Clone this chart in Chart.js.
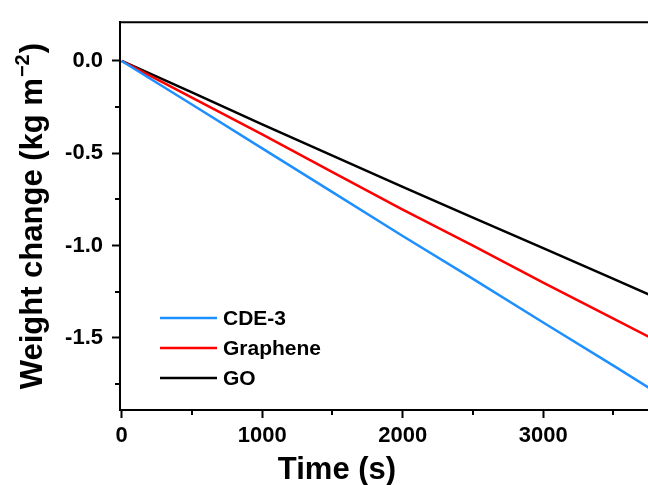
<!DOCTYPE html>
<html>
<head>
<meta charset="utf-8">
<title>Weight change</title>
<script src="https://cdn.jsdelivr.net/npm/chart.js@4.4.0/dist/chart.umd.min.js"></script>
<style>
    html, body { margin: 0; padding: 0; background: #fff; }
    #wrap { width: 648px; height: 485px; }
</style>
</head>
<body>
<div id="wrap"><canvas id="weightChart" width="648" height="485"></canvas></div>
<script>
// values
const timeSeconds = [0, 500, 1000, 1500, 2000, 2500, 3000, 3500, 3800];
const cde3Values = [0, -0.236, -0.473, -0.71, -0.948, -1.18, -1.416, -1.65, -1.792];
const grapheneValues = [0, -0.199, -0.398, -0.602, -0.805, -1.0, -1.2, -1.395, -1.512];
const goValues = [0, -0.17, -0.343, -0.512, -0.682, -0.848, -1.013, -1.18, -1.281];

const seriesLabels = ['CDE-3', 'Graphene', 'GO'];
const seriesColors = ['#1e8fff', '#ff0000', '#000000'];

const xMajorTicks = [0, 1000, 2000, 3000];
const yMajorTicks = [0, -0.5, -1.0, -1.5];
const xMinorTicks = [500, 1500, 2500, 3500];
const yMinorTicks = [-0.25, -0.75, -1.25, -1.75];

const xTitle = 'Time (s)';
const yTitle = ['Weight change (kg m', '\u22122', ')'];

const FONT = '"Liberation Sans", Arial, Helvetica, sans-serif';

function toPoints(values) {
    return timeSeconds.map((t, i) => ({ x: t, y: values[i] }));
}

// top frame line and minor ticks
const framePlugin = {
    id: 'frame',
    afterDraw(chart) {
        const { ctx, chartArea, scales } = chart;
        ctx.save();
        ctx.strokeStyle = '#000';
        ctx.lineWidth = 2;
        ctx.beginPath();
        ctx.moveTo(chartArea.left - 1, chartArea.top);
        ctx.lineTo(chartArea.right, chartArea.top);
        xMinorTicks.forEach(v => {
            const px = Math.round(scales.x.getPixelForValue(v));
            ctx.moveTo(px, chartArea.bottom);
            ctx.lineTo(px, chartArea.bottom + 5);
        });
        yMinorTicks.forEach(v => {
            const py = Math.round(scales.y.getPixelForValue(v));
            ctx.moveTo(chartArea.left, py);
            ctx.lineTo(chartArea.left - 5, py);
        });
        ctx.stroke();
        ctx.restore();
    }
};

// axis titles (the y one needs a real superscript)
const axisTitles = {
    id: 'axisTitles',
    afterDraw(chart) {
        const { ctx, chartArea } = chart;
        ctx.save();
        ctx.fillStyle = '#000';
        ctx.textBaseline = 'alphabetic';

        ctx.font = 'bold 31px ' + FONT;
        ctx.textAlign = 'center';
        ctx.fillText(xTitle, chartArea.left + 217, 479);

        // y title, rotated
        const mainFont = 'bold 31px ' + FONT;
        const supFont = 'bold 20px ' + FONT;
        ctx.font = mainFont;
        const w1 = ctx.measureText(yTitle[0]).width;
        const w3 = ctx.measureText(yTitle[2]).width;
        ctx.font = supFont;
        const w2 = ctx.measureText(yTitle[1]).width;
        const total = w1 + w2 + w3 + 2;
        const cy = (chartArea.top + chartArea.bottom) / 2;
        ctx.translate(42, cy);
        ctx.rotate(-Math.PI / 2);
        ctx.textAlign = 'left';
        let x = -total / 2;
        ctx.font = mainFont;
        ctx.fillText(yTitle[0], x, 0);
        x += w1 + 1;
        ctx.font = supFont;
        ctx.fillText(yTitle[1], x, -13);
        x += w2 + 1;
        ctx.font = mainFont;
        ctx.fillText(yTitle[2], x, 0);
        ctx.restore();
    }
};

// legend inside the plot, lower left
const innerLegend = {
    id: 'innerLegend',
    afterDatasetsDraw(chart) {
        const { ctx, chartArea } = chart;
        ctx.save();
        ctx.font = 'bold 21px ' + FONT;
        ctx.textBaseline = 'middle';
        chart.data.datasets.forEach((ds, i) => {
            const y = chartArea.bottom - 92 + i * 30;
            const x0 = chartArea.left + 40;
            ctx.strokeStyle = ds.borderColor;
            ctx.lineWidth = 2.5;
            ctx.beginPath();
            ctx.moveTo(x0, y);
            ctx.lineTo(x0 + 57, y);
            ctx.stroke();
            ctx.fillStyle = '#000';
            ctx.fillText(ds.label, x0 + 63, y + 1);
        });
        ctx.restore();
    }
};

const allValues = [cde3Values, grapheneValues, goValues];

new Chart(document.getElementById('weightChart'), {
    type: 'line',
    data: {
        datasets: allValues.map((vals, i) => ({
            label: seriesLabels[i],
            data: toPoints(vals),
            borderColor: seriesColors[i],
            backgroundColor: seriesColors[i],
            borderWidth: 2.5,
            pointRadius: 0,
            tension: 0,
            fill: false
        }))
    },
    options: {
        responsive: false,
        animation: false,
        devicePixelRatio: 1,
        layout: { padding: { top: 18, right: 0, bottom: 0, left: 0 } },
        plugins: {
            legend: { display: false },
            tooltip: { enabled: false }
        },
        scales: {
            x: {
                type: 'linear',
                min: -12,
                max: 3746,
                afterBuildTicks: scale => { scale.ticks = xMajorTicks.map(v => ({ value: v })); },
                afterFit: scale => { scale.height = 75; },
                ticks: {
                    maxRotation: 0,
                    autoSkip: false,
                    padding: 5,
                    color: '#000',
                    font: { family: FONT, size: 22, weight: 'bold' },
                    callback: v => String(v)
                },
                grid: {
                    drawOnChartArea: false,
                    drawTicks: true,
                    tickLength: 8,
                    tickWidth: 2,
                    color: '#000'
                },
                border: { display: true, color: '#000', width: 2 },
                title: { display: false }
            },
            y: {
                type: 'linear',
                min: -1.89,
                max: 0.21,
                afterBuildTicks: scale => { scale.ticks = yMajorTicks.map(v => ({ value: v })); },
                afterFit: scale => { scale.width = 120; },
                ticks: {
                    autoSkip: false,
                    padding: 9,
                    color: '#000',
                    font: { family: FONT, size: 22, weight: 'bold' },
                    callback: v => v.toFixed(1)
                },
                grid: {
                    drawOnChartArea: false,
                    drawTicks: true,
                    tickLength: 8,
                    tickWidth: 2,
                    color: '#000'
                },
                border: { display: true, color: '#000', width: 2 },
                title: { display: false }
            }
        }
    },
    plugins: [framePlugin, axisTitles, innerLegend]
});
</script>
</body>
</html>
